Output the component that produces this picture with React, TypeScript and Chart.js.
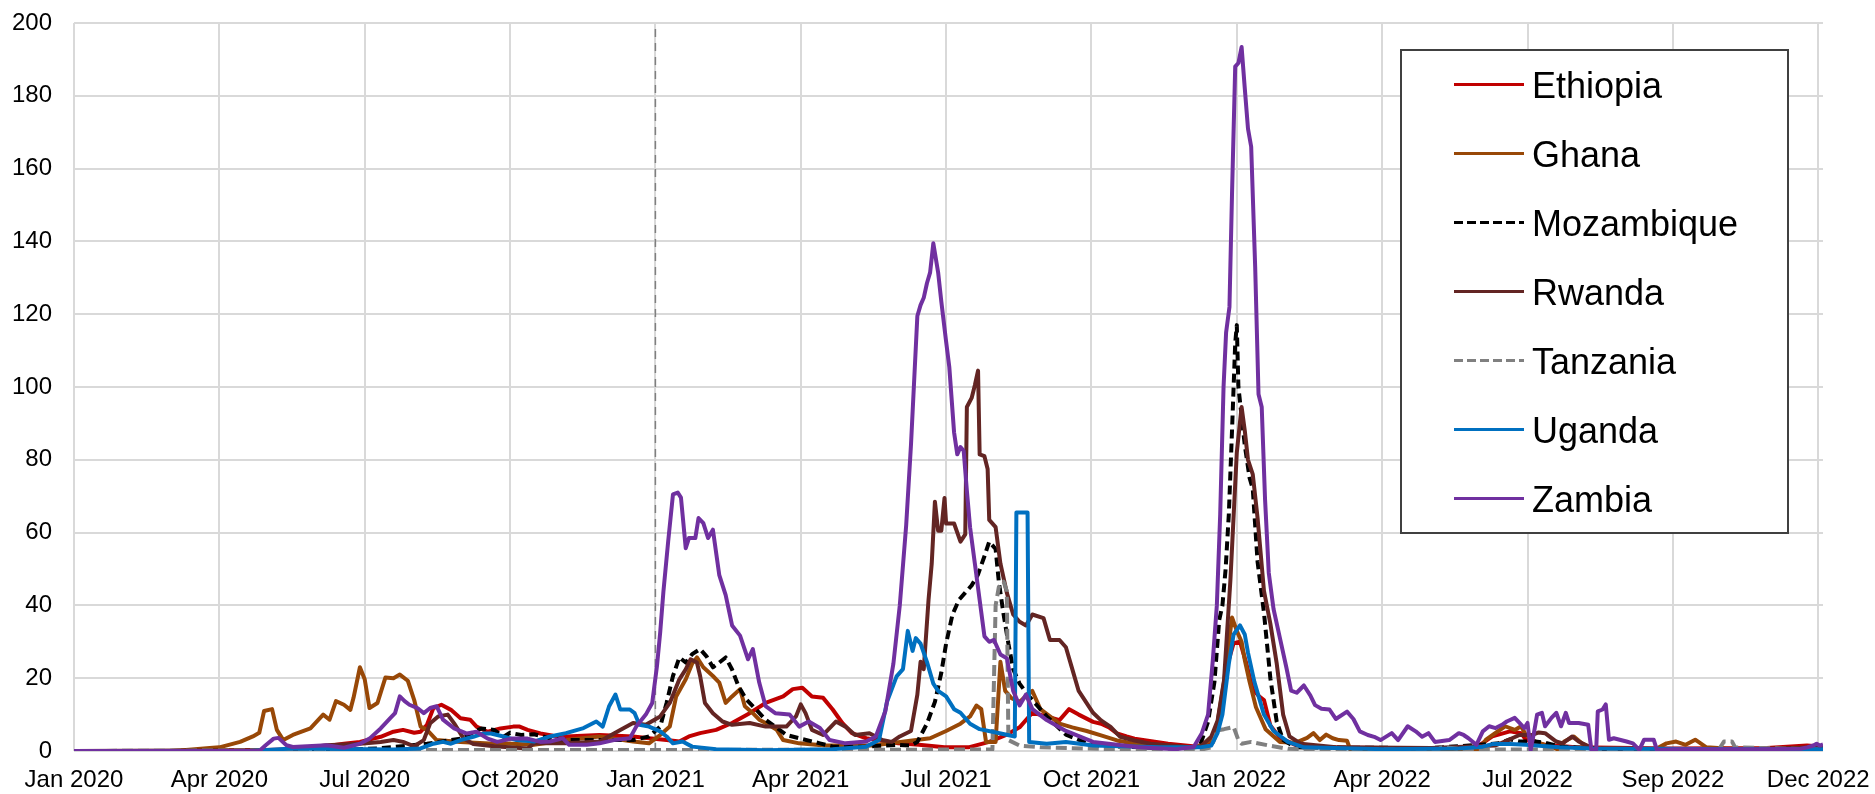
import { useEffect, useRef } from 'react';
import { Chart, registerables } from 'chart.js';

Chart.register(...registerables);

type P = [number, number];

// x = day index since start (Jan 2020), y = value
const tickDays = [0, 91, 182, 273, 364, 455, 546, 637, 728, 819, 910, 1001, 1092];
const tickLabels = ['Jan 2020', 'Apr 2020', 'Jul 2020', 'Oct 2020', 'Jan 2021', 'Apr 2021', 'Jul 2021', 'Oct 2021', 'Jan 2022', 'Apr 2022', 'Jul 2022', 'Sep 2022', 'Dec 2022'];
const xMax = 1095;
const yMax = 200;
const yStep = 20;
const markerDay = 364;
const markerY = [0, 200];

const countries = ['Ethiopia', 'Ghana', 'Mozambique', 'Rwanda', 'Tanzania', 'Uganda', 'Zambia'];
const colors = ['#C00000', '#984807', '#000000', '#632523', '#808080', '#0070C0', '#7030A0'];
const dashes: number[][] = [[], [], [9, 5], [], [11, 5], [], []];

const ethiopia: P[] = [[0,0],[60,0],[120,0.3],[137,0.5],[154,1.1],[169,2],[179,2.5],[192,3.9],[200,5.3],[206,5.8],[213,5],[217,5.3],[221,7.2],[225,11.8],[230,12.7],[236,11.3],[242,9],[248,8.6],[252,6.7],[259,5.3],[267,6.2],[275,6.7],[279,6.7],[284,5.8],[292,4.8],[300,4.2],[308,4],[329,4.4],[350,4],[360,3.5],[371,3],[379,2.6],[385,4],[392,4.9],[402,5.8],[412,7.7],[423,10.4],[433,13.2],[444,15],[450,17],[456,17.4],[462,15],[469,14.6],[475,11.4],[481,7.7],[487,4.9],[496,3.5],[516,2.1],[529,1.7],[545,1],[560,1],[573,2.5],[584,4.5],[592,6.5],[600,10.5],[609,9.5],[617,8.5],[623,11.5],[629,10],[638,8],[643,7.5],[648,6.5],[653,4.8],[659,4],[664,3.4],[685,2],[705,1.1],[712,2],[716,6],[720,18],[723,25],[726,29.6],[730,30],[734,24],[738,17],[742,15],[745,14],[749,7],[755,3.6],[767,1.2],[784,1],[820,0.8],[860,0.8],[878,1],[888,4],[899,5.4],[906,4.9],[909,3.1],[921,1.7],[940,1],[1000,0.7],[1060,0.8],[1085,1.5],[1095,1.2]];

const ghana: P[] = [[0,0],[60,0],[70,0.3],[85,0.8],[91,1],[104,2.5],[112,4],[116,5],[119,11],[124,11.5],[127,5.8],[131,3],[137,4.4],[148,6.2],[156,10],[160,8.6],[164,13.7],[169,12.7],[173,11.3],[175,14.6],[179,23],[182,19.7],[185,11.8],[190,13.2],[195,20.2],[200,20],[204,21],[209,19.3],[213,14],[217,6.7],[221,5.8],[227,3],[242,2.5],[263,2],[267,2.1],[288,1.7],[308,3],[329,4],[350,2.6],[360,2.1],[367,4.4],[373,6.7],[377,15],[383,19.7],[387,24],[390,25.7],[394,23],[400,20.6],[404,18.8],[408,13.2],[412,15],[417,17],[420,12.3],[425,10.4],[429,8.6],[433,7.7],[440,5.8],[444,3],[454,2.1],[470,1.5],[500,1.5],[536,3.5],[546,5.5],[555,7.5],[561,9.5],[565,12.5],[568,11.5],[571,2.5],[577,2.5],[580,24.5],[583,16.5],[587,14.5],[592,13.5],[597,15.5],[600,16.5],[605,11.5],[611,9.5],[617,7.5],[625,6.5],[634,5.5],[643,4.3],[653,2.9],[664,2],[685,1.1],[702,1],[712,3],[716,8],[720,19],[725,36.7],[728,33],[731,30],[733,25],[736,19],[740,12],[746,6],[755,2.5],[765,2.3],[772,3.6],[776,4.9],[780,3],[784,4.5],[788,3.5],[792,3],[797,2.8],[799,0.4],[840,0.3],[880,0.5],[884,3.1],[896,6.8],[902,5.8],[906,6.8],[909,4.4],[915,2.6],[924,1.2],[930,0.3],[933,2.6],[939,4],[944,2.1],[951,0.7],[990,0.5],[997,2.1],[1003,2.6],[1009,1.7],[1015,3.1],[1022,1],[1034,0.7],[1095,0.5]];

const mozambique: P[] = [[0,0],[150,0],[190,0.7],[200,1.1],[221,2],[242,3.4],[255,6.2],[263,5.8],[269,3.9],[273,5],[280,4.4],[288,4.6],[298,3.5],[308,3],[329,3],[350,3],[360,4],[367,6.7],[371,13.2],[375,20.6],[379,25.7],[383,24.3],[387,26.6],[392,28],[396,26],[400,23],[404,24.3],[408,25.7],[412,22.4],[416,17.8],[421,14.1],[427,11.4],[433,8.6],[439,6.7],[446,4.4],[454,3.5],[467,2.1],[475,1.2],[496,1.2],[516,1.7],[524,1.5],[528,2.5],[534,7.5],[539,13.5],[543,21.5],[546,29.5],[550,37.5],[554,41.5],[558,43.5],[562,45.5],[566,48.5],[570,53.5],[573,57.5],[577,55.5],[579,46.5],[582,37.5],[585,29.5],[588,22.5],[592,18.5],[597,15.5],[603,12.5],[609,9.5],[621,4.5],[638,1.5],[680,0.8],[700,1],[705,1.5],[710,8],[714,19],[717,36],[719,40],[721,50],[723,65],[725,88],[727,112],[728,117],[729,100],[731,92],[733,84],[736,75],[738,72],[741,52],[745,38],[749,20],[753,8],[757,3],[765,1],[850,0.8],[892,2.1],[899,3.2],[905,2.6],[915,2.6],[921,2.3],[930,1.2],[960,0.5],[1095,0.5]];

const rwanda: P[] = [[0,0],[137,0.3],[158,1.6],[179,2],[192,2.5],[200,3],[206,2.5],[213,1.3],[219,3],[223,7.6],[228,9.5],[234,10],[238,7.6],[244,3.4],[250,1.9],[263,1.3],[284,0.7],[288,2.1],[308,2.1],[329,2.6],[342,5.8],[350,7.7],[358,7.2],[367,9.5],[373,13.2],[379,19.7],[383,22.4],[386,25.2],[390,24.3],[392,20.6],[395,13.2],[400,10.4],[406,8.1],[412,7.2],[423,7.7],[433,6.7],[446,6.7],[452,9.5],[455,12.8],[458,10.4],[462,5.8],[469,4.4],[477,8.1],[483,6.7],[489,4.4],[498,4.9],[506,3],[512,2.5],[517,4],[524,5.5],[528,15.5],[530,24.5],[532,22.5],[535,41.5],[537,51.5],[539,68.5],[541,60.5],[543,60.5],[545,69.5],[546,62.5],[551,62.5],[555,57.5],[558,59.5],[559,94.5],[562,97],[564,100.5],[566,104.5],[567,81.5],[570,81],[572,77.5],[573,63.5],[577,61.5],[580,51.5],[584,43.5],[588,37.5],[592,35.5],[596,34.5],[600,37.5],[607,36.5],[611,30.5],[617,30.5],[621,28.5],[625,22.5],[629,16.5],[638,10.5],[643,8.4],[649,6.6],[655,3.9],[664,2.9],[674,2],[685,1.6],[697,1.1],[705,1.1],[712,3.9],[716,8.4],[720,19.4],[724,47],[728,82],[731,94.5],[733,88],[735,80],[738,76],[741,64],[745,44],[749,35],[753,24],[757,10],[761,4],[768,2],[790,1],[850,0.8],[890,1.5],[905,4.4],[913,4.4],[917,5.1],[921,4.9],[928,2.6],[932,2.1],[938,4],[942,2.6],[951,0.7],[1000,0.5],[1060,0.6],[1090,1],[1095,1]];

const tanzania: P[] = [[0,0],[220,0.3],[400,0.3],[575,0.4],[577,40],[579,45],[582,46.5],[584,44],[585,3],[592,1.5],[605,1],[650,0.5],[705,0.3],[712,1],[716,5.7],[720,6],[726,6.6],[729,3],[731,2],[737,2.5],[747,1.6],[760,0.6],[800,0.4],[854,0.4],[856,1],[860,1],[870,0.4],[1030,0.5],[1033,2.6],[1038,2.6],[1040,1],[1095,0.4]];

const uganda: P[] = [[0,0],[110,0],[137,0.7],[200,0.4],[217,0.7],[225,2],[231,2.5],[236,2],[242,3],[250,3.9],[256,4.8],[261,4.8],[267,4.2],[277,3],[288,2.6],[298,4],[308,4.9],[319,6.3],[327,8.1],[331,6.7],[335,12.3],[339,15.5],[342,11.4],[348,11.4],[351,10.4],[354,7.2],[360,6.7],[367,5.4],[371,4],[375,2.1],[381,2.6],[387,1.2],[402,0.5],[433,0.2],[475,0.5],[496,1.2],[504,3],[509,13.5],[515,20.5],[519,22.5],[522,33],[525,27.5],[527,31],[530,29.5],[534,24.5],[538,18.5],[541,16.5],[546,15],[551,11.5],[555,10.5],[561,7.5],[567,6],[578,5],[589,4],[590,65.5],[597,65.5],[598,2.5],[609,2],[621,2.5],[638,1.5],[680,1],[705,1],[712,1.5],[716,5],[719,10],[723,24],[726,32],[730,34.5],[733,32],[735,27],[739,19],[745,10],[751,5.5],[760,2.5],[770,1],[820,0.5],[867,0.7],[882,1.2],[888,1.9],[899,1.9],[909,1.7],[930,1],[951,0.7],[1055,0.5],[1095,0.5]];

const zambia: P[] = [[0,0],[116,0],[120,1.6],[125,3.4],[128,3.6],[133,1.6],[137,1.1],[146,1.3],[158,1.6],[169,0.9],[179,2],[185,3.4],[192,6.2],[198,9],[201,10.4],[204,15],[207,13.7],[210,12.7],[215,11.8],[219,10.4],[223,11.8],[227,12.3],[231,8.6],[238,6.2],[246,4.8],[252,5.3],[259,3.4],[265,2.5],[274,3.4],[284,3.4],[292,2.5],[298,2.6],[306,3.5],[310,1.7],[321,1.7],[329,2.1],[338,3],[348,3.5],[352,6.7],[358,10],[362,13.2],[365,23.4],[367,32.6],[369,43.7],[372,57.6],[375,70.5],[378,71],[380,69.6],[383,55.7],[385,58.5],[389,58.5],[391,64],[394,62.6],[397,58.5],[400,60.8],[404,48.3],[408,42.8],[412,34.5],[417,31.7],[422,25.2],[425,28],[429,18.8],[433,12.3],[439,10.4],[448,10],[454,6.7],[460,8.1],[467,6.3],[473,3],[483,2.1],[496,2.6],[502,4],[508,11],[513,24],[517,40],[521,62],[524,84],[528,119.5],[530,122.5],[532,124.5],[534,128.5],[536,131.5],[538,139.5],[541,131.5],[543,123.5],[546,112.5],[548,105.5],[551,87.5],[553,81.5],[555,83.5],[557,82.5],[559,71.5],[561,61.5],[564,51.5],[567,41.5],[570,31.5],[573,30],[576,30.5],[580,26.5],[584,25.5],[588,16.5],[592,12.5],[596,15.5],[600,11.5],[609,8.5],[621,5.5],[638,2.5],[667,1],[690,0.5],[701,1.1],[706,4.8],[710,10],[713,25],[715.5,40],[717.6,65],[719.7,100],[721.3,115],[723.4,122],[725,153],[727,188],[729,189],[731,193.4],[733,182],[735,171],[737,166],[739.5,133],[741.6,98],[743.6,94.5],[745.7,69],[748,49],[751,39],[755,31],[759,23],[762,16.6],[765.5,16],[770,18],[774,15.3],[777,12.6],[781,11.6],[786,11.4],[790,8.8],[797,10.8],[801,8.8],[805,5.4],[810,4.4],[814,3.9],[818,3],[825,4.9],[829,3],[835,6.8],[840,5.4],[844,3.9],[848,4.9],[852,2.5],[861,3],[867,4.9],[870,4.4],[873,3.5],[878,1.7],[882,5.4],[886,6.8],[890,6.3],[894,7.2],[897,8.1],[902,9.1],[905,7.7],[908,6.3],[910,7.7],[912,0.3],[914,4.9],[916,10],[919,10.5],[921,6.8],[925,9.1],[928,10.5],[931,6.8],[934,10.5],[936,7.7],[942,7.7],[948,7.2],[950,0.3],[953,0.3],[954,10.9],[957,11.4],[959,12.8],[961,3.1],[964,3.5],[972,2.6],[976,2.1],[980,0.3],[983,3.1],[989,3.1],[991,0.3],[1003,0.5],[1055,0.5],[1081,0.6],[1085,1],[1089,1.5],[1091,2],[1093,1.5],[1095,1.8]];

const FONT = "'Liberation Sans', Arial, sans-serif";

export default function App() {
  const ref = useRef<HTMLCanvasElement>(null);

  useEffect(() => {
    const series = [ethiopia, ghana, mozambique, rwanda, tanzania, uganda, zambia];
    const datasets: any[] = series.map((s, i) => ({
      label: countries[i],
      data: s.map(([x, y]) => ({ x, y })),
      borderColor: colors[i],
      backgroundColor: colors[i],
      borderWidth: 4,
      borderDash: dashes[i],
      pointRadius: 0,
      tension: 0,
      fill: false,
      order: 7 - i,
      borderJoinStyle: 'round',
    }));
    datasets.push({
      label: '__marker',
      data: markerY.map((y) => ({ x: markerDay, y })),
      borderColor: '#7f7f7f',
      borderWidth: 1.5,
      borderDash: [8, 6],
      pointRadius: 0,
      fill: false,
      order: 20,
    });

    const legendPlugin = {
      id: 'boxLegend',
      afterDraw(chart: any) {
        const ctx = chart.ctx as CanvasRenderingContext2D;
        const bx = 1401, by = 50, bw = 387, bh = 483;
        ctx.save();
        ctx.fillStyle = '#ffffff';
        ctx.fillRect(bx, by, bw, bh);
        ctx.strokeStyle = '#404040';
        ctx.lineWidth = 2;
        ctx.strokeRect(bx, by, bw, bh);
        const rows = countries.length;
        for (let i = 0; i < rows; i++) {
          const ds = chart.data.datasets[i];
          const cy = 84.5 + i * 69;
          ctx.beginPath();
          ctx.setLineDash(ds.borderDash && ds.borderDash.length ? [9, 4] : []);
          ctx.strokeStyle = ds.borderColor;
          ctx.lineWidth = 3;
          ctx.moveTo(1454, cy);
          ctx.lineTo(1524, cy);
          ctx.stroke();
          ctx.setLineDash([]);
          ctx.fillStyle = '#000000';
          ctx.font = `36px ${FONT}`;
          ctx.textAlign = 'left';
          ctx.textBaseline = 'alphabetic';
          ctx.fillText(ds.label, 1532, cy + 13);
        }
        ctx.restore();
      },
    };

    const chart = new Chart(ref.current as HTMLCanvasElement, {
      type: 'line',
      data: { datasets },
      options: {
        responsive: false,
        animation: false,
        devicePixelRatio: 1,
        events: [],
        layout: { padding: { top: 23, right: 52, left: 0, bottom: 0 } },
        plugins: { legend: { display: false }, tooltip: { enabled: false } },
        scales: {
          x: {
            type: 'linear',
            min: 0,
            max: xMax,
            afterBuildTicks: (s: any) => {
              s.ticks = tickDays.map((v) => ({ value: v }));
            },
            afterFit: (s: any) => {
              s.height = 43;
              s.paddingLeft = 0;
              s.paddingRight = 0;
              s.paddingTop = 0;
              s.paddingBottom = 0;
            },
            ticks: {
              autoSkip: false,
              maxRotation: 0,
              minRotation: 0,
              padding: 15,
              color: '#000000',
              font: { family: FONT, size: 24 },
              callback: (_v: any, i: number) => tickLabels[i] ?? '',
            },
            grid: { color: '#d9d9d9', lineWidth: 2, drawTicks: false },
            border: { display: false },
          },
          y: {
            min: 0,
            max: yMax,
            afterFit: (s: any) => {
              s.width = 74;
              s.paddingLeft = 0;
              s.paddingRight = 0;
              s.paddingTop = 0;
              s.paddingBottom = 0;
            },
            ticks: {
              stepSize: yStep,
              padding: 22,
              color: '#000000',
              font: { family: FONT, size: 24 },
            },
            grid: { color: '#d9d9d9', lineWidth: 2, drawTicks: false },
            border: { display: false },
          },
        },
      } as any,
      plugins: [legendPlugin],
    });
    return () => chart.destroy();
  }, []);

  return (
    <div style={{ position: 'fixed', left: 0, top: 0, width: 1875, height: 794, background: '#ffffff' }}>
      <canvas ref={ref} width={1875} height={794} style={{ display: 'block', width: 1875, height: 794 }} />
    </div>
  );
}
